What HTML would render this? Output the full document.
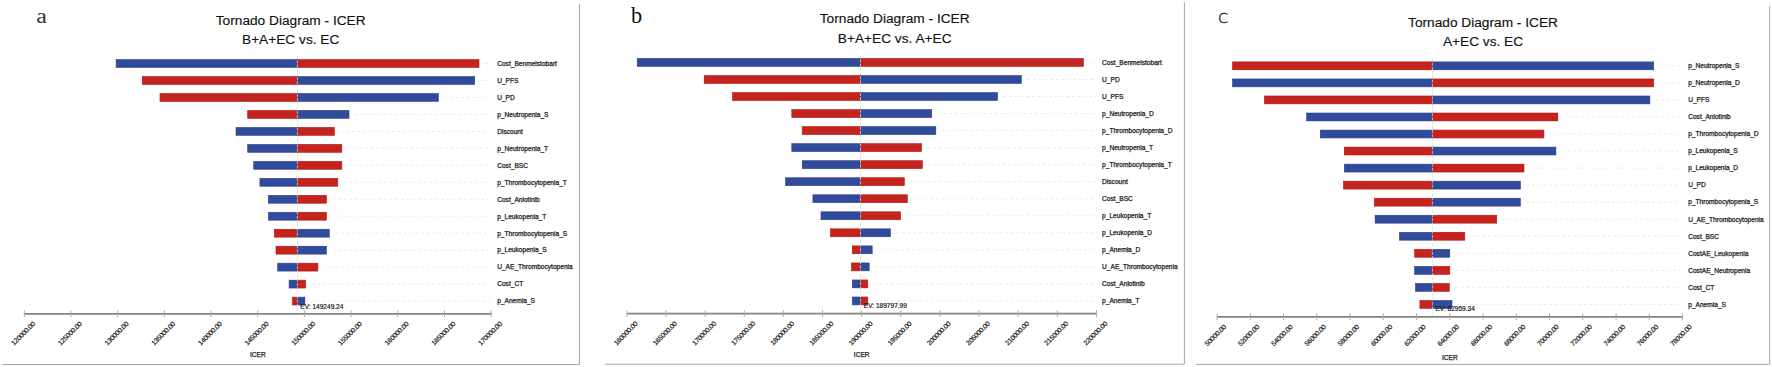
<!DOCTYPE html>
<html><head><meta charset="utf-8"><title>Tornado Diagrams - ICER</title>
<style>
html,body{margin:0;padding:0;background:#fff;}
body{width:1772px;height:367px;overflow:hidden;}
svg{display:block;}
text{font-family:"Liberation Sans",sans-serif;fill:#1a1a1a;}
.t{font-size:13.7px;text-anchor:middle;fill:#111;stroke:#111;stroke-width:.15;}
.l{font-size:6.6px;stroke:#1a1a1a;stroke-width:.25;}
.e{font-size:6.55px;stroke:#1a1a1a;stroke-width:.2;}
.k{font-size:6.8px;text-anchor:middle;letter-spacing:-.2px;stroke:#1a1a1a;stroke-width:.2;}
.b{fill:#314B9B;stroke:#28408F;stroke-width:.6;}
.r{fill:#C4241F;stroke:#BF0F0E;stroke-width:.6;}
.g{stroke:#e9e9e9;stroke-width:.9;stroke-dasharray:2.86 2.86;fill:none;}
.ev{stroke:#d8d8d8;stroke-width:.8;stroke-dasharray:3 1.2;fill:none;}
.ax{stroke:#86827e;stroke-width:1.7;fill:none;}
.tk{stroke:#aaa6a2;stroke-width:.9;fill:none;}
.bd{stroke:#aaa49f;stroke-width:1;fill:none;}
</style></head><body>
<svg width="1772" height="367" viewBox="0 0 1772 367">
<rect width="1772" height="367" fill="#fff"/>
<g id="panel-a">
<path class="bd" d="M579.4 3.7V364.5H2.2"/>
<text transform="translate(36.3 23.0) scale(1.13 1)" style='font-family:"Liberation Serif", serif;font-size:21.3px;fill:#333'>a</text>
<text class="t" x="290.7" y="24.6">Tornado Diagram - ICER</text>
<text class="t" x="290.7" y="44.0">B+A+EC vs. EC</text>
<path class="g" d="M484.9 63.50H490.5"/>
<rect class="b" x="116.1" y="59.55" width="181.3" height="7.9"/><rect class="r" x="297.4" y="59.55" width="181.6" height="7.9"/>
<text class="l" x="497.2" y="65.80">Cost_Benmelstobart</text>
<path class="g" d="M480.6 80.47H490.5"/>
<rect class="r" x="142.3" y="76.52" width="155.1" height="7.9"/><rect class="b" x="297.4" y="76.52" width="177.3" height="7.9"/>
<text class="l" x="497.2" y="82.77">U_PFS</text>
<path class="g" d="M444.2 97.44H490.5"/>
<rect class="r" x="160.0" y="93.49" width="137.4" height="7.9"/><rect class="b" x="297.4" y="93.49" width="140.9" height="7.9"/>
<text class="l" x="497.2" y="99.74">U_PD</text>
<path class="g" d="M354.9 114.41H490.5"/>
<rect class="r" x="247.7" y="110.46" width="49.7" height="7.9"/><rect class="b" x="297.4" y="110.46" width="51.6" height="7.9"/>
<text class="l" x="497.2" y="116.71">p_Neutropenia_S</text>
<path class="g" d="M340.2 131.38H490.5"/>
<rect class="b" x="236.0" y="127.43" width="61.4" height="7.9"/><rect class="r" x="297.4" y="127.43" width="36.9" height="7.9"/>
<text class="l" x="497.2" y="133.68">Discount</text>
<path class="g" d="M347.7 148.35H490.5"/>
<rect class="b" x="247.7" y="144.40" width="49.7" height="7.9"/><rect class="r" x="297.4" y="144.40" width="44.4" height="7.9"/>
<text class="l" x="497.2" y="150.65">p_Neutropenia_T</text>
<path class="g" d="M347.7 165.32H490.5"/>
<rect class="b" x="253.7" y="161.37" width="43.7" height="7.9"/><rect class="r" x="297.4" y="161.37" width="44.4" height="7.9"/>
<text class="l" x="497.2" y="167.62">Cost_BSC</text>
<path class="g" d="M343.7 182.29H490.5"/>
<rect class="b" x="259.9" y="178.34" width="37.5" height="7.9"/><rect class="r" x="297.4" y="178.34" width="40.4" height="7.9"/>
<text class="l" x="497.2" y="184.59">p_Thrombocytopenia_T</text>
<path class="g" d="M332.3 199.26H490.5"/>
<rect class="b" x="268.3" y="195.31" width="29.1" height="7.9"/><rect class="r" x="297.4" y="195.31" width="29.0" height="7.9"/>
<text class="l" x="497.2" y="201.56">Cost_Anlotinib</text>
<path class="g" d="M332.3 216.23H490.5"/>
<rect class="b" x="268.5" y="212.28" width="28.9" height="7.9"/><rect class="r" x="297.4" y="212.28" width="29.0" height="7.9"/>
<text class="l" x="497.2" y="218.53">p_Leukopenia_T</text>
<path class="g" d="M335.2 233.20H490.5"/>
<rect class="r" x="274.4" y="229.25" width="23.0" height="7.9"/><rect class="b" x="297.4" y="229.25" width="31.9" height="7.9"/>
<text class="l" x="497.2" y="235.50">p_Thrombocytopenia_S</text>
<path class="g" d="M332.3 250.17H490.5"/>
<rect class="r" x="276.0" y="246.22" width="21.4" height="7.9"/><rect class="b" x="297.4" y="246.22" width="29.0" height="7.9"/>
<text class="l" x="497.2" y="252.47">p_Leukopenia_S</text>
<path class="g" d="M323.8 267.14H490.5"/>
<rect class="b" x="277.7" y="263.19" width="19.7" height="7.9"/><rect class="r" x="297.4" y="263.19" width="20.5" height="7.9"/>
<text class="l" x="497.2" y="269.44">U_AE_Thrombocytopenia</text>
<path class="g" d="M311.6 284.11H490.5"/>
<rect class="b" x="289.1" y="280.16" width="8.3" height="7.9"/><rect class="r" x="297.4" y="280.16" width="8.3" height="7.9"/>
<text class="l" x="497.2" y="286.41">Cost_CT</text>
<path class="g" d="M310.8 301.08H490.5"/>
<rect class="r" x="292.5" y="297.13" width="4.9" height="7.9"/><rect class="b" x="297.4" y="297.13" width="7.5" height="7.9"/>
<text class="l" x="497.2" y="303.38">p_Anemia_S</text>
<path class="ev" d="M297.4 56.2V313.8"/>
<text class="e" x="300.3" y="309.2">EV: 149249.24</text>
<path class="ax" d="M24.3 313.8H491.2"/>
<path class="tk" d="M24.3 310.4V317.1"/><text class="k" transform="translate(24.8 335.1) rotate(-45)">120000.00</text>
<path class="tk" d="M71.0 310.4V317.1"/><text class="k" transform="translate(71.5 335.1) rotate(-45)">125000.00</text>
<path class="tk" d="M117.7 310.4V317.1"/><text class="k" transform="translate(118.2 335.1) rotate(-45)">130000.00</text>
<path class="tk" d="M164.4 310.4V317.1"/><text class="k" transform="translate(164.9 335.1) rotate(-45)">135000.00</text>
<path class="tk" d="M211.1 310.4V317.1"/><text class="k" transform="translate(211.6 335.1) rotate(-45)">140000.00</text>
<path class="tk" d="M257.8 310.4V317.1"/><text class="k" transform="translate(258.2 335.1) rotate(-45)">145000.00</text>
<path class="tk" d="M304.4 310.4V317.1"/><text class="k" transform="translate(304.9 335.1) rotate(-45)">150000.00</text>
<path class="tk" d="M351.1 310.4V317.1"/><text class="k" transform="translate(351.6 335.1) rotate(-45)">155000.00</text>
<path class="tk" d="M397.8 310.4V317.1"/><text class="k" transform="translate(398.3 335.1) rotate(-45)">160000.00</text>
<path class="tk" d="M444.5 310.4V317.1"/><text class="k" transform="translate(445.0 335.1) rotate(-45)">165000.00</text>
<path class="tk" d="M491.2 310.4V317.1"/><text class="k" transform="translate(491.7 335.1) rotate(-45)">170000.00</text>
<text class="l" text-anchor="middle" x="257.8" y="356.7">ICER</text>
</g>
<g id="panel-b">
<path class="bd" d="M1184.4 2.2V364.2H604.9"/>
<text transform="translate(631.0 23.0) scale(1.0 1)" style='font-family:"Liberation Serif", serif;font-size:22.3px;fill:#111'>b</text>
<text class="t" x="894.7" y="23.2">Tornado Diagram - ICER</text>
<text class="t" x="894.7" y="42.5">B+A+EC vs. A+EC</text>
<path class="g" d="M1089.2 62.45H1096"/>
<rect class="b" x="637.2" y="58.50" width="223.3" height="7.9"/><rect class="r" x="860.5" y="58.50" width="222.8" height="7.9"/>
<text class="l" x="1102.1" y="64.75">Cost_Benmelstobart</text>
<path class="g" d="M1027.2 79.48H1096"/>
<rect class="r" x="704.2" y="75.53" width="156.3" height="7.9"/><rect class="b" x="860.5" y="75.53" width="160.8" height="7.9"/>
<text class="l" x="1102.1" y="81.78">U_PD</text>
<path class="g" d="M1003.4 96.52H1096"/>
<rect class="r" x="732.6" y="92.57" width="127.9" height="7.9"/><rect class="b" x="860.5" y="92.57" width="137.0" height="7.9"/>
<text class="l" x="1102.1" y="98.82">U_PFS</text>
<path class="g" d="M937.6 113.56H1096"/>
<rect class="r" x="791.8" y="109.61" width="68.7" height="7.9"/><rect class="b" x="860.5" y="109.61" width="71.2" height="7.9"/>
<text class="l" x="1102.1" y="115.86">p_Neutropenia_D</text>
<path class="g" d="M941.7 130.59H1096"/>
<rect class="r" x="802.2" y="126.64" width="58.3" height="7.9"/><rect class="b" x="860.5" y="126.64" width="75.3" height="7.9"/>
<text class="l" x="1102.1" y="132.89">p_Thrombocytopenia_D</text>
<path class="g" d="M927.4 147.62H1096"/>
<rect class="b" x="791.8" y="143.68" width="68.7" height="7.9"/><rect class="r" x="860.5" y="143.68" width="61.0" height="7.9"/>
<text class="l" x="1102.1" y="149.93">p_Neutropenia_T</text>
<path class="g" d="M928.3 164.66H1096"/>
<rect class="b" x="802.2" y="160.71" width="58.3" height="7.9"/><rect class="r" x="860.5" y="160.71" width="61.9" height="7.9"/>
<text class="l" x="1102.1" y="166.96">p_Thrombocytopenia_T</text>
<path class="g" d="M910.2 181.69H1096"/>
<rect class="b" x="785.6" y="177.75" width="74.9" height="7.9"/><rect class="r" x="860.5" y="177.75" width="43.8" height="7.9"/>
<text class="l" x="1102.1" y="184.00">Discount</text>
<path class="g" d="M913.2 198.73H1096"/>
<rect class="b" x="812.9" y="194.78" width="47.6" height="7.9"/><rect class="r" x="860.5" y="194.78" width="46.8" height="7.9"/>
<text class="l" x="1102.1" y="201.03">Cost_BSC</text>
<path class="g" d="M906.4 215.76H1096"/>
<rect class="b" x="821.0" y="211.81" width="39.5" height="7.9"/><rect class="r" x="860.5" y="211.81" width="40.0" height="7.9"/>
<text class="l" x="1102.1" y="218.06">p_Leukopenia_T</text>
<path class="g" d="M896.3 232.80H1096"/>
<rect class="r" x="830.5" y="228.85" width="30.0" height="7.9"/><rect class="b" x="860.5" y="228.85" width="29.9" height="7.9"/>
<text class="l" x="1102.1" y="235.10">p_Leukopenia_D</text>
<path class="g" d="M878.1 249.83H1096"/>
<rect class="r" x="852.3" y="245.88" width="8.2" height="7.9"/><rect class="b" x="860.5" y="245.88" width="11.7" height="7.9"/>
<text class="l" x="1102.1" y="252.13">p_Anemia_D</text>
<path class="g" d="M875.1 266.87H1096"/>
<rect class="r" x="851.5" y="262.92" width="9.0" height="7.9"/><rect class="b" x="860.5" y="262.92" width="8.7" height="7.9"/>
<text class="l" x="1102.1" y="269.17">U_AE_Thrombocytopenia</text>
<path class="g" d="M873.7 283.91H1096"/>
<rect class="b" x="852.3" y="279.96" width="8.2" height="7.9"/><rect class="r" x="860.5" y="279.96" width="7.3" height="7.9"/>
<text class="l" x="1102.1" y="286.21">Cost_Anlotinib</text>
<path class="g" d="M873.7 300.94H1096"/>
<rect class="b" x="852.3" y="296.99" width="8.2" height="7.9"/><rect class="r" x="860.5" y="296.99" width="7.3" height="7.9"/>
<text class="l" x="1102.1" y="303.24">p_Anemia_T</text>
<path class="ev" d="M860.5 55.2V313.7"/>
<text class="e" x="863.8" y="307.9">EV: 189797.99</text>
<path class="ax" d="M626.9 313.7H1096.5"/>
<path class="tk" d="M626.9 310.3V317.0"/><text class="k" transform="translate(627.4 335.0) rotate(-45)">160000.00</text>
<path class="tk" d="M666.0 310.3V317.0"/><text class="k" transform="translate(666.5 335.0) rotate(-45)">165000.00</text>
<path class="tk" d="M705.2 310.3V317.0"/><text class="k" transform="translate(705.7 335.0) rotate(-45)">170000.00</text>
<path class="tk" d="M744.3 310.3V317.0"/><text class="k" transform="translate(744.8 335.0) rotate(-45)">175000.00</text>
<path class="tk" d="M783.4 310.3V317.0"/><text class="k" transform="translate(783.9 335.0) rotate(-45)">180000.00</text>
<path class="tk" d="M822.5 310.3V317.0"/><text class="k" transform="translate(823.0 335.0) rotate(-45)">185000.00</text>
<path class="tk" d="M861.7 310.3V317.0"/><text class="k" transform="translate(862.2 335.0) rotate(-45)">190000.00</text>
<path class="tk" d="M900.8 310.3V317.0"/><text class="k" transform="translate(901.3 335.0) rotate(-45)">195000.00</text>
<path class="tk" d="M939.9 310.3V317.0"/><text class="k" transform="translate(940.4 335.0) rotate(-45)">200000.00</text>
<path class="tk" d="M979.1 310.3V317.0"/><text class="k" transform="translate(979.6 335.0) rotate(-45)">205000.00</text>
<path class="tk" d="M1018.2 310.3V317.0"/><text class="k" transform="translate(1018.7 335.0) rotate(-45)">210000.00</text>
<path class="tk" d="M1057.3 310.3V317.0"/><text class="k" transform="translate(1057.8 335.0) rotate(-45)">215000.00</text>
<path class="tk" d="M1096.5 310.3V317.0"/><text class="k" transform="translate(1097.0 335.0) rotate(-45)">220000.00</text>
<text class="l" text-anchor="middle" x="861.7" y="356.6">ICER</text>
</g>
<g id="panel-c">
<path class="bd" d="M1769.7 6.1V364.4H1196.3"/>
<text transform="translate(1218.0 23.2) scale(1.08 1)" style='font-family:"DejaVu Sans", "Liberation Sans", sans-serif;font-weight:200;stroke:#222;stroke-width:.35px;font-size:17.4px;fill:#222'>c</text>
<text class="t" x="1483" y="27.0">Tornado Diagram - ICER</text>
<text class="t" x="1483" y="46.4">A+EC vs. EC</text>
<path class="g" d="M1659.6 65.85H1681"/>
<rect class="r" x="1232.6" y="61.90" width="199.8" height="7.9"/><rect class="b" x="1432.4" y="61.90" width="221.3" height="7.9"/>
<text class="l" x="1688.2" y="68.15">p_Neutropenia_S</text>
<path class="g" d="M1659.6 82.89H1681"/>
<rect class="b" x="1232.6" y="78.94" width="199.8" height="7.9"/><rect class="r" x="1432.4" y="78.94" width="221.3" height="7.9"/>
<text class="l" x="1688.2" y="85.19">p_Neutropenia_D</text>
<path class="g" d="M1655.8 99.93H1681"/>
<rect class="r" x="1264.4" y="95.98" width="168.0" height="7.9"/><rect class="b" x="1432.4" y="95.98" width="217.5" height="7.9"/>
<text class="l" x="1688.2" y="102.23">U_PFS</text>
<path class="g" d="M1563.7 116.97H1681"/>
<rect class="b" x="1306.7" y="113.02" width="125.7" height="7.9"/><rect class="r" x="1432.4" y="113.02" width="125.4" height="7.9"/>
<text class="l" x="1688.2" y="119.27">Cost_Anlotinib</text>
<path class="g" d="M1549.8 134.01H1681"/>
<rect class="b" x="1320.3" y="130.06" width="112.1" height="7.9"/><rect class="r" x="1432.4" y="130.06" width="111.5" height="7.9"/>
<text class="l" x="1688.2" y="136.31">p_Thrombocytopenia_D</text>
<path class="g" d="M1561.8 151.05H1681"/>
<rect class="r" x="1344.3" y="147.10" width="88.1" height="7.9"/><rect class="b" x="1432.4" y="147.10" width="123.5" height="7.9"/>
<text class="l" x="1688.2" y="153.35">p_Leukopenia_S</text>
<path class="g" d="M1529.9 168.09H1681"/>
<rect class="b" x="1344.3" y="164.14" width="88.1" height="7.9"/><rect class="r" x="1432.4" y="164.14" width="91.6" height="7.9"/>
<text class="l" x="1688.2" y="170.39">p_Leukopenia_D</text>
<path class="g" d="M1526.3 185.13H1681"/>
<rect class="r" x="1343.5" y="181.18" width="88.9" height="7.9"/><rect class="b" x="1432.4" y="181.18" width="88.0" height="7.9"/>
<text class="l" x="1688.2" y="187.43">U_PD</text>
<path class="g" d="M1526.3 202.17H1681"/>
<rect class="r" x="1374.3" y="198.22" width="58.1" height="7.9"/><rect class="b" x="1432.4" y="198.22" width="88.0" height="7.9"/>
<text class="l" x="1688.2" y="204.47">p_Thrombocytopenia_S</text>
<path class="g" d="M1502.6 219.21H1681"/>
<rect class="b" x="1375.1" y="215.26" width="57.3" height="7.9"/><rect class="r" x="1432.4" y="215.26" width="64.3" height="7.9"/>
<text class="l" x="1688.2" y="221.51">U_AE_Thrombocytopenia</text>
<path class="g" d="M1470.7 236.25H1681"/>
<rect class="b" x="1399.5" y="232.30" width="32.9" height="7.9"/><rect class="r" x="1432.4" y="232.30" width="32.4" height="7.9"/>
<text class="l" x="1688.2" y="238.55">Cost_BSC</text>
<path class="g" d="M1455.7 253.29H1681"/>
<rect class="r" x="1414.7" y="249.34" width="17.7" height="7.9"/><rect class="b" x="1432.4" y="249.34" width="17.4" height="7.9"/>
<text class="l" x="1688.2" y="255.59">CostAE_Leukopenia</text>
<path class="g" d="M1455.7 270.33H1681"/>
<rect class="b" x="1414.7" y="266.38" width="17.7" height="7.9"/><rect class="r" x="1432.4" y="266.38" width="17.4" height="7.9"/>
<text class="l" x="1688.2" y="272.63">CostAE_Neutropenia</text>
<path class="g" d="M1455.2 287.37H1681"/>
<rect class="b" x="1415.5" y="283.42" width="16.9" height="7.9"/><rect class="r" x="1432.4" y="283.42" width="16.9" height="7.9"/>
<text class="l" x="1688.2" y="289.67">Cost_CT</text>
<path class="g" d="M1457.9 304.41H1681"/>
<rect class="r" x="1419.9" y="300.46" width="12.5" height="7.9"/><rect class="b" x="1432.4" y="300.46" width="19.6" height="7.9"/>
<text class="l" x="1688.2" y="306.71">p_Anemia_S</text>
<path class="ev" d="M1432.4 58.6V316.8"/>
<text class="e" x="1435.4" y="311.4">EV: 62959.34</text>
<path class="ax" d="M1217.1 316.8H1682.6"/>
<path class="tk" d="M1217.1 313.4V320.1"/><text class="k" transform="translate(1217.0 337.0) rotate(-45)">50000.00</text>
<path class="tk" d="M1250.3 313.4V320.1"/><text class="k" transform="translate(1250.2 337.0) rotate(-45)">52000.00</text>
<path class="tk" d="M1283.6 313.4V320.1"/><text class="k" transform="translate(1283.5 337.0) rotate(-45)">54000.00</text>
<path class="tk" d="M1316.8 313.4V320.1"/><text class="k" transform="translate(1316.8 337.0) rotate(-45)">56000.00</text>
<path class="tk" d="M1350.1 313.4V320.1"/><text class="k" transform="translate(1350.0 337.0) rotate(-45)">58000.00</text>
<path class="tk" d="M1383.3 313.4V320.1"/><text class="k" transform="translate(1383.2 337.0) rotate(-45)">60000.00</text>
<path class="tk" d="M1416.6 313.4V320.1"/><text class="k" transform="translate(1416.5 337.0) rotate(-45)">62000.00</text>
<path class="tk" d="M1449.8 313.4V320.1"/><text class="k" transform="translate(1449.8 337.0) rotate(-45)">64000.00</text>
<path class="tk" d="M1483.1 313.4V320.1"/><text class="k" transform="translate(1483.0 337.0) rotate(-45)">66000.00</text>
<path class="tk" d="M1516.3 313.4V320.1"/><text class="k" transform="translate(1516.2 337.0) rotate(-45)">68000.00</text>
<path class="tk" d="M1549.6 313.4V320.1"/><text class="k" transform="translate(1549.5 337.0) rotate(-45)">70000.00</text>
<path class="tk" d="M1582.8 313.4V320.1"/><text class="k" transform="translate(1582.8 337.0) rotate(-45)">72000.00</text>
<path class="tk" d="M1616.1 313.4V320.1"/><text class="k" transform="translate(1616.0 337.0) rotate(-45)">74000.00</text>
<path class="tk" d="M1649.3 313.4V320.1"/><text class="k" transform="translate(1649.2 337.0) rotate(-45)">76000.00</text>
<path class="tk" d="M1682.6 313.4V320.1"/><text class="k" transform="translate(1682.5 337.0) rotate(-45)">78000.00</text>
<text class="l" text-anchor="middle" x="1449.8" y="359.7">ICER</text>
</g>
</svg></body></html>
